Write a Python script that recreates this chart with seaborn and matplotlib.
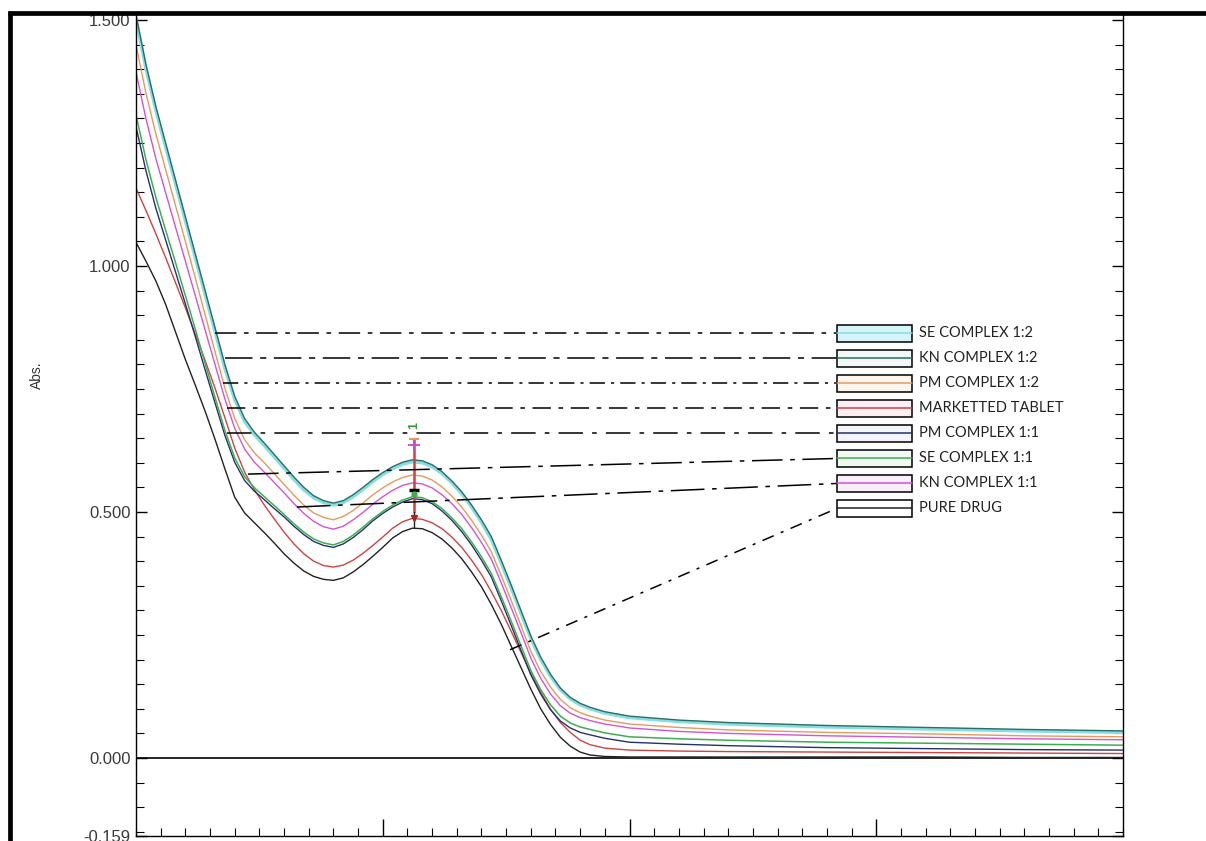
import matplotlib
matplotlib.use("Agg")
import matplotlib.pyplot as plt
import seaborn as sns
import pandas as pd
from matplotlib.lines import Line2D
from matplotlib.patches import Rectangle
from matplotlib.ticker import MultipleLocator

# ---------------- data ----------------
wavelength = [200, 202, 204, 206, 208, 210, 212, 214, 216, 218, 220, 222, 224, 226, 228,
              230, 232, 234, 236, 238, 240, 242, 244, 246, 248, 250, 252, 254, 256, 258,
              260, 262, 264, 266, 268, 270, 272, 274, 276, 278, 280, 282, 284, 286, 288,
              290, 292, 295, 300, 310, 320, 340, 360, 380, 400]

kn_12 = [1.510, 1.410, 1.325, 1.250, 1.175, 1.100, 1.025, 0.950, 0.875, 0.800, 0.735, 0.690, 0.662, 0.640, 0.617,
         0.594, 0.571, 0.550, 0.533, 0.523, 0.518, 0.523, 0.535, 0.550, 0.566, 0.580, 0.592, 0.601, 0.606, 0.604,
         0.596, 0.582, 0.563, 0.541, 0.514, 0.484, 0.450, 0.402, 0.352, 0.300, 0.248, 0.205, 0.170, 0.142, 0.123,
         0.111, 0.103, 0.094, 0.085, 0.077, 0.072, 0.066, 0.062, 0.058, 0.055]

se_12 = [1.502, 1.402, 1.317, 1.242, 1.167, 1.092, 1.017, 0.942, 0.867, 0.792, 0.728, 0.684, 0.657, 0.635, 0.612,
         0.589, 0.566, 0.545, 0.529, 0.519, 0.514, 0.519, 0.531, 0.546, 0.562, 0.576, 0.588, 0.597, 0.602, 0.600,
         0.592, 0.578, 0.559, 0.537, 0.510, 0.479, 0.444, 0.396, 0.346, 0.294, 0.243, 0.200, 0.166, 0.139, 0.120,
         0.108, 0.100, 0.091, 0.082, 0.074, 0.069, 0.063, 0.059, 0.055, 0.052]

pm_12 = [1.449, 1.352, 1.269, 1.196, 1.123, 1.050, 0.976, 0.901, 0.826, 0.752, 0.690, 0.647, 0.620, 0.600, 0.578,
         0.556, 0.534, 0.514, 0.498, 0.489, 0.484, 0.491, 0.503, 0.518, 0.535, 0.549, 0.561, 0.570, 0.575, 0.573,
         0.565, 0.551, 0.532, 0.510, 0.483, 0.453, 0.419, 0.371, 0.321, 0.269, 0.217, 0.176, 0.144, 0.119, 0.102,
         0.092, 0.085, 0.077, 0.069, 0.062, 0.057, 0.052, 0.049, 0.045, 0.043]

marketed = [1.158, 1.113, 1.066, 1.017, 0.966, 0.915, 0.862, 0.808, 0.752, 0.692, 0.630, 0.581, 0.545, 0.514, 0.486,
            0.459, 0.435, 0.415, 0.400, 0.391, 0.388, 0.392, 0.402, 0.416, 0.432, 0.449, 0.467, 0.480, 0.487, 0.485,
            0.478, 0.466, 0.449, 0.428, 0.402, 0.373, 0.338, 0.300, 0.258, 0.215, 0.172, 0.134, 0.099, 0.072, 0.052,
            0.036, 0.027, 0.020, 0.016, 0.014, 0.013, 0.012, 0.011, 0.010, 0.009]

pm_11 = [1.283, 1.194, 1.118, 1.053, 0.988, 0.923, 0.857, 0.789, 0.722, 0.656, 0.601, 0.564, 0.542, 0.525, 0.507,
         0.490, 0.471, 0.454, 0.440, 0.432, 0.428, 0.435, 0.448, 0.464, 0.482, 0.497, 0.510, 0.520, 0.527, 0.525,
         0.517, 0.502, 0.483, 0.460, 0.433, 0.402, 0.368, 0.320, 0.270, 0.219, 0.169, 0.130, 0.098, 0.075, 0.061,
         0.052, 0.047, 0.040, 0.032, 0.028, 0.025, 0.021, 0.019, 0.017, 0.016]

se_11 = [1.307, 1.217, 1.140, 1.073, 1.007, 0.940, 0.872, 0.802, 0.733, 0.666, 0.610, 0.572, 0.549, 0.531, 0.513,
         0.495, 0.476, 0.459, 0.445, 0.437, 0.433, 0.440, 0.453, 0.469, 0.486, 0.501, 0.514, 0.524, 0.531, 0.529,
         0.521, 0.507, 0.488, 0.466, 0.439, 0.409, 0.375, 0.328, 0.279, 0.228, 0.178, 0.139, 0.108, 0.085, 0.071,
         0.063, 0.058, 0.051, 0.043, 0.039, 0.036, 0.032, 0.030, 0.028, 0.026]

kn_11 = [1.394, 1.300, 1.219, 1.149, 1.079, 1.010, 0.940, 0.870, 0.800, 0.730, 0.670, 0.628, 0.601, 0.581, 0.560,
         0.539, 0.517, 0.497, 0.481, 0.470, 0.465, 0.471, 0.484, 0.499, 0.516, 0.531, 0.544, 0.554, 0.559, 0.557,
         0.549, 0.535, 0.517, 0.495, 0.468, 0.438, 0.404, 0.356, 0.306, 0.255, 0.203, 0.162, 0.130, 0.106, 0.091,
         0.082, 0.076, 0.069, 0.061, 0.054, 0.050, 0.045, 0.042, 0.039, 0.037]

pure_drug = [1.048, 1.010, 0.970, 0.922, 0.866, 0.810, 0.758, 0.705, 0.648, 0.588, 0.530, 0.498, 0.478, 0.458, 0.437,
             0.415, 0.396, 0.380, 0.369, 0.363, 0.361, 0.366, 0.378, 0.393, 0.410, 0.428, 0.447, 0.460, 0.467, 0.466,
             0.458, 0.445, 0.427, 0.405, 0.378, 0.348, 0.312, 0.272, 0.228, 0.184, 0.140, 0.100, 0.068, 0.042, 0.024,
             0.012, 0.006, 0.003, 0.002, 0.002, 0.002, 0.002, 0.002, 0.001, 0.001]

legend_names = ["SE COMPLEX 1:2", "KN COMPLEX 1:2", "PM COMPLEX 1:2", "MARKETTED TABLET",
                "PM COMPLEX 1:1", "SE COMPLEX 1:1", "KN COMPLEX 1:1", "PURE DRUG"]
series_values = [se_12, kn_12, pm_12, marketed, pm_11, se_11, kn_11, pure_drug]

y_tick_values = [1.5, 1.0, 0.5, 0.0, -0.159]
y_tick_labels = ["1.500", "1.000", "0.500", "0.000", "-0.159"]
x_major_ticks = [250, 300, 350]

# ---------------- styles ----------------
line_colors = {
    "SE COMPLEX 1:2": "#86dde4",
    "KN COMPLEX 1:2": "#2d6e62",
    "PM COMPLEX 1:2": "#e59a5c",
    "MARKETTED TABLET": "#cc4444",
    "PM COMPLEX 1:1": "#25306e",
    "SE COMPLEX 1:1": "#3fae52",
    "KN COMPLEX 1:1": "#d255d2",
    "PURE DRUG": "#222222",
}
line_widths = {
    "SE COMPLEX 1:2": 2.4, "KN COMPLEX 1:2": 1.0, "PM COMPLEX 1:2": 1.0,
    "MARKETTED TABLET": 1.0, "PM COMPLEX 1:1": 1.0, "SE COMPLEX 1:1": 1.1,
    "KN COMPLEX 1:1": 1.0, "PURE DRUG": 1.0,
}
box_fills = {
    "SE COMPLEX 1:2": "#d6f3f6", "KN COMPLEX 1:2": "#f1f8f5", "PM COMPLEX 1:2": "#fdf6ee",
    "MARKETTED TABLET": "#fdeff1", "PM COMPLEX 1:1": "#f4f4fb", "SE COMPLEX 1:1": "#f1faf1",
    "KN COMPLEX 1:1": "#f9eef9", "PURE DRUG": "#ffffff",
}

rows = []
for name, vals in zip(legend_names, series_values):
    for w, a in zip(wavelength, vals):
        rows.append({"Wavelength": w, "Abs": a, "Sample": name})
df = pd.DataFrame(rows)

sns.set_style("white")
plt.rcParams["font.family"] = ["Liberation Sans", "DejaVu Sans"]

W, H = 1206, 841
fig = plt.figure(figsize=(W / 100, H / 100), dpi=100)
ax_left, ax_right, ax_top, ax_bot = 136, 1123, 15, 836.2
ax = fig.add_axes([ax_left / W, (H - ax_bot) / H, (ax_right - ax_left) / W, (ax_bot - ax_top) / H])

draw_order = ["SE COMPLEX 1:2", "PURE DRUG", "MARKETTED TABLET", "PM COMPLEX 1:1", "SE COMPLEX 1:1",
              "KN COMPLEX 1:1", "PM COMPLEX 1:2", "KN COMPLEX 1:2"]
for name in draw_order:
    sub = df[df["Sample"] == name]
    sns.lineplot(data=sub, x="Wavelength", y="Abs", color=line_colors[name],
                 lw=line_widths[name], ax=ax, legend=False, estimator=None, sort=False)

ax.axhline(0.0, color="black", lw=1.2, zorder=1)

ax.set_xlim(200, 400)
ax.set_ylim(-0.159, 1.51)
ax.set_xticks(x_major_ticks)
ax.xaxis.set_minor_locator(MultipleLocator(5))
ax.set_yticks(y_tick_values)
ax.set_yticklabels(y_tick_labels)
ax.yaxis.set_minor_locator(MultipleLocator(0.05))
ax.set_xlabel("")
ax.set_ylabel("")
ax.tick_params(axis="both", which="both", direction="in", top=False, right=True,
               bottom=True, left=True, labelbottom=False, color="black")
ax.tick_params(axis="y", which="major", length=8, width=1, labelsize=12, labelcolor="#3a3a3a", pad=4)
ax.tick_params(axis="y", which="minor", length=6, width=0.8)
ax.tick_params(axis="x", which="major", length=12, width=1)
ax.tick_params(axis="x", which="minor", length=6, width=0.8)
for s in ["left", "right", "bottom"]:
    ax.spines[s].set_color("black")
    ax.spines[s].set_linewidth(1.0)
ax.spines["top"].set_visible(False)

# ---------------- peak markers ----------------
peak_nm = 256.3
ax.plot([peak_nm, peak_nm], [0.648, 0.50], color="#d04040", lw=1.8, zorder=5)
ax.plot([peak_nm, peak_nm], [0.50, 0.467], color="#222222", lw=1.0, zorder=5)
ax.plot([peak_nm], [0.636], marker="+", ms=8, color="#c050c0", mew=1.3, zorder=6)
ax.plot([peak_nm], [0.648], marker="_", ms=7, color="#e59a5c", mew=1.5, zorder=6)
ax.plot([peak_nm], [0.545], marker="_", ms=7, color="black", mew=2.5, zorder=6)
ax.plot([peak_nm], [0.537], marker="o", ms=3.5, color="#3fae52", zorder=6)
ax.plot([peak_nm], [0.487], marker="v", ms=5, color="#b02020", zorder=6)
ax.text(peak_nm, 0.676, "1", rotation=90, color="#3a9a3a", fontsize=9,
        ha="center", va="center", fontweight="bold")

# ---------------- legend boxes + leader lines ----------------
box_x0, box_x1 = 342.0, 357.2
box_h = 0.0345
box_centers = [0.8628, 0.8120, 0.7612, 0.7104, 0.6595, 0.6087, 0.5579, 0.5071]
leader_starts = [(216.0, 0.8628), (218.0, 0.8120), (217.6, 0.7612), (218.4, 0.7104),
                 (218.4, 0.6595), (222.7, 0.577), (232.6, 0.510), (275.8, 0.220)]
leader_styles = [(0, (14, 5, 3, 5)), (0, (18, 5, 4, 5)), (0, (10, 4, 2, 4)), (0, (12, 5, 3, 5)),
                 (0, (16, 6, 3, 6)), (0, (20, 5, 3, 5)), (0, (22, 5, 3, 5)), (0, (8, 5, 2, 5))]

for name, yc, start, ls in zip(legend_names, box_centers, leader_starts, leader_styles):
    ax.plot([start[0], box_x0], [start[1], yc], color="black", lw=1.1, linestyle=ls, zorder=7)
    ax.add_patch(Rectangle((box_x0, yc - box_h / 2), box_x1 - box_x0, box_h,
                           facecolor=box_fills[name], edgecolor="black", lw=1.1, zorder=8))
    ax.plot([box_x0, box_x1], [yc, yc], color=line_colors[name], lw=1.1, zorder=9)
    ax.text(box_x1 + 1.4, yc, name, fontsize=10.5, color="#222222", va="center", ha="left",
            family=["Lato", "DejaVu Sans"], zorder=9)

# ---------------- y label and outer frame ----------------
fig.text(37 / W, 1 - 375 / H, "Abs.", rotation=90, ha="center", va="center",
         fontsize=10, color="#333333")
fig.add_artist(Line2D([8 / W, 1.0], [1 - 13 / H, 1 - 13 / H], transform=fig.transFigure,
                      color="black", lw=3.4, solid_capstyle="butt"))
fig.add_artist(Line2D([10 / W, 10 / W], [0.0, 1 - 11 / H], transform=fig.transFigure,
                      color="black", lw=3.4, solid_capstyle="butt"))

fig.savefig("out.png", dpi=100)
